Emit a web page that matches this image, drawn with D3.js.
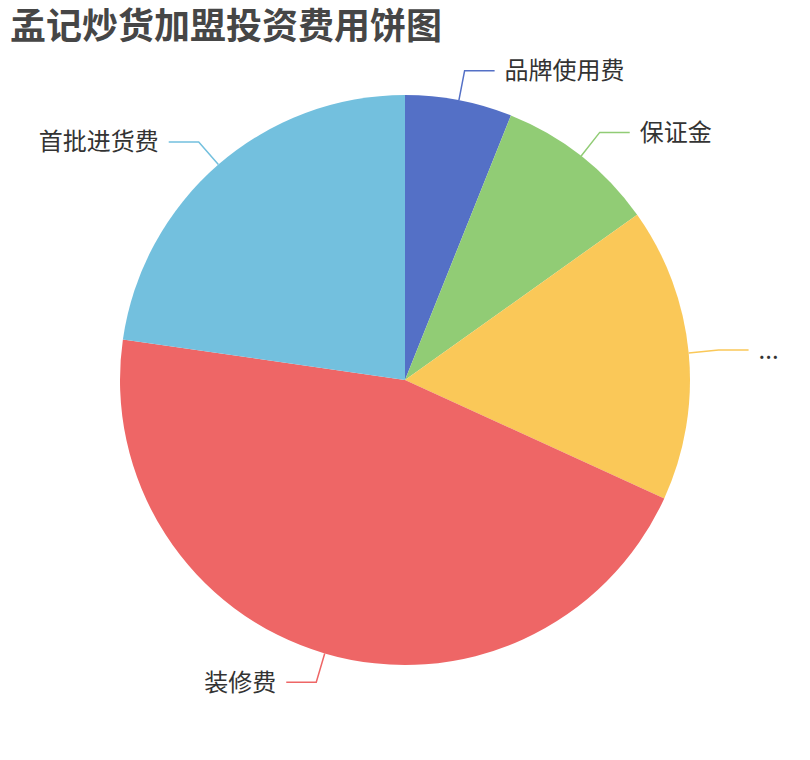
<!DOCTYPE html>
<html>
<head>
<meta charset="utf-8">
<script src="https://cdn.jsdelivr.net/npm/d3@7"></script>
<style>
  body { margin: 0; background: #fff; }
  text { font-family: "Noto Sans CJK SC", "Noto Sans", sans-serif; }
</style>
</head>
<body>
<div id="pie-chart"></div>
<script>
// Data (万元)
const categories = ["品牌使用费", "保证金", "设备费", "装修费", "首批进货费"];
const values = [2, 3, 5.5, 15, 7.5];
const colors = ["#5470c6", "#91cc75", "#fac858", "#ee6666", "#73c0de"];
const chartTitle = "孟记炒货加盟投资费用饼图";

const drawPieChart = () => {

  /*******************************/
  /*    Declare the constants    */
  /*******************************/
  const width = 810;
  const height = 760;
  const cx = 405;
  const cy = 380;
  const radius = 285;
  const len1 = 30;
  const len2 = 30;
  const textGap = 10;
  const labelSize = 24;
  const textColor = "#333";

  const data = categories.map((c, i) => ({ name: c, value: values[i], color: colors[i] }));

  /*******************************/
  /*    Append the containers    */
  /*******************************/
  const svg = d3.select("#pie-chart")
    .append("svg")
      .attr("width", width)
      .attr("height", height)
      .attr("viewBox", `0, 0, ${width}, ${height}`);

  const innerChart = svg
    .append("g")
      .attr("transform", `translate(${cx}, ${cy})`);

  /****************************/
  /*    Pie and arc layout    */
  /****************************/
  const pie = d3.pie()
    .value(d => d.value)
    .sort(null);
  const arcs = pie(data);

  const arcGenerator = d3.arc()
    .innerRadius(0)
    .outerRadius(radius);

  innerChart
    .selectAll("path.slice")
    .data(arcs)
    .join("path")
      .attr("class", "slice")
      .attr("d", arcGenerator)
      .attr("fill", d => d.data.color);

  /************************/
  /*      Add labels      */
  /************************/
  const point = (angle, r) => [Math.sin(angle) * r, -Math.cos(angle) * r];

  const measure = svg.append("text")
    .attr("font-size", labelSize)
    .attr("visibility", "hidden");
  const textWidth = s => { measure.text(s); return measure.node().getComputedTextLength(); };

  arcs.forEach(d => {
    const mid = (d.startAngle + d.endAngle) / 2;
    const p1 = point(mid, radius);
    const p2 = point(mid, radius + len1);
    const right = Math.sin(mid) >= 0;
    const p3 = [p2[0] + (right ? len2 : -len2), p2[1]];

    innerChart
      .append("polyline")
        .attr("points", [p1, p2, p3].map(p => p.join(",")).join(" "))
        .attr("fill", "none")
        .attr("stroke", d.data.color)
        .attr("stroke-width", 1.5);

    // Truncate the label when it runs past the edge of the chart
    const tx = p3[0] + (right ? textGap : -textGap);
    const avail = right ? (width - cx - tx - 15) : (cx + tx - 15);
    let label = d.data.name;
    if (textWidth(label) > avail) {
      let chars = label.length;
      while (chars > 0 && textWidth(label.slice(0, chars) + "...") > avail) chars--;
      label = label.slice(0, chars) + "...";
    }

    innerChart
      .append("text")
        .text(label)
        .attr("x", tx)
        .attr("y", p3[1] - 2)
        .attr("font-size", labelSize)
        .attr("fill", textColor)
        .attr("text-anchor", right ? "start" : "end")
        .attr("dominant-baseline", "central");
  });
  measure.remove();

  // Title
  svg
    .append("text")
      .text(chartTitle)
      .attr("x", 10)
      .attr("y", 39)
      .attr("font-size", 36)
      .attr("font-weight", "bold")
      .attr("fill", "#464646");
};

drawPieChart();
</script>
</body>
</html>
